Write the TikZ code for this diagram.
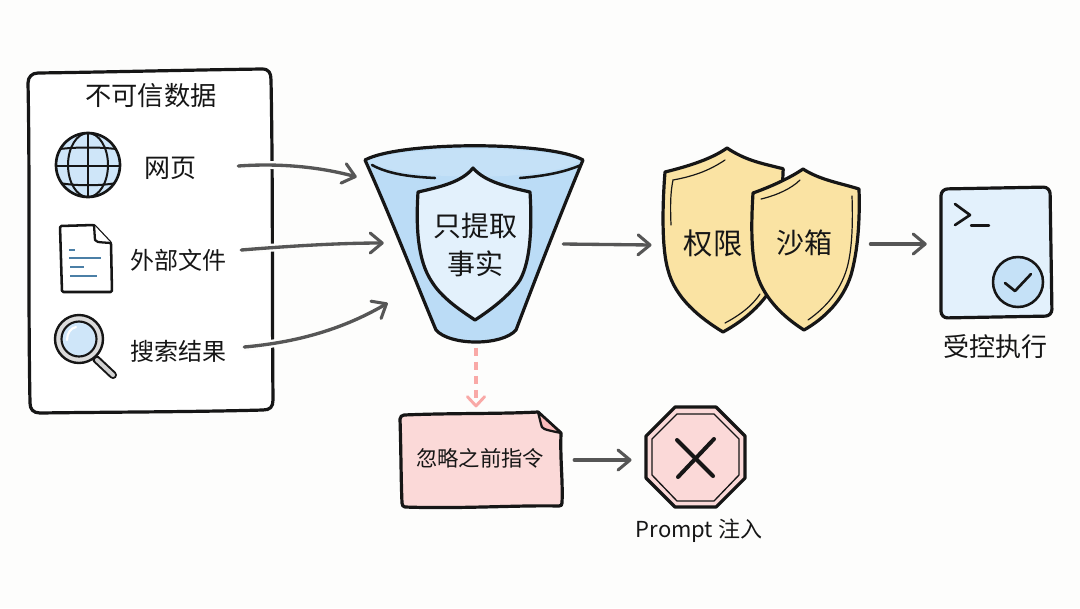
\documentclass[tikz,border=0pt]{standalone}
\usepackage{fontspec}
\setmainfont{Noto Sans CJK SC}
\usetikzlibrary{arrows.meta,calc}
\definecolor{paper}{HTML}{FDFDFC}
\definecolor{ink}{HTML}{161616}
\definecolor{arrowgray}{HTML}{565656}
\definecolor{blueA}{HTML}{BBDCF6}
\definecolor{blueB}{HTML}{E3F1FC}
\definecolor{blueC}{HTML}{CFE6F9}
\definecolor{yel}{HTML}{FAE3A3}
\definecolor{pinkA}{HTML}{FBD9D8}
\definecolor{pinkB}{HTML}{F9A9A7}
\definecolor{docline}{HTML}{4B7FA6}
\tikzset{
  inkline/.style={draw=ink,line width=2.4pt,line join=round,line cap=round},
  thinink/.style={draw=ink,line width=1.5pt,line join=round,line cap=round},
  flow/.style={draw=arrowgray,line width=2.5pt,line cap=round,
    -{Straight Barb[length=9pt,width=15pt,line width=2.3pt,round]},
    preaction={draw=paper,line width=6pt,arrows=-}},
  flowdash/.style={draw=pinkB,line width=2.8pt,dash pattern=on 6pt off 4.5pt,
    -{Straight Barb[length=7pt,width=13pt,line width=2.2pt,round]}},
  txt/.style={text=ink,inner sep=0pt,font=\fontsize{#1}{#1}\selectfont},
  ghost/.style={inner sep=0pt,minimum width=#1}
}
\begin{document}
\begin{tikzpicture}[x=0.75pt,y=-0.75pt]
\useasboundingbox (0,0) rectangle (1080,608);
\fill[paper] (0,0) rectangle (1080,608);

% --- untrusted data box
\draw[inkline,fill=white] (38,73) .. controls (110,72) and (190,70) .. (262,69)
  .. controls (269,69) and (271,73) .. (271,80)
  .. controls (273,180) and (272,300) .. (273,400)
  .. controls (273,407) and (270,410) .. (263,410)
  .. controls (190,412) and (110,412) .. (40,413)
  .. controls (33,413) and (30,409) .. (30,403)
  .. controls (28,300) and (30,180) .. (28,83)
  .. controls (28,77) and (32,73) .. (38,73) -- cycle;
\node[txt=19.7] (untrusted) at (151,96) {不可信数据};

% globe
\fill[blueC] (88,165) circle (32);
\begin{scope}
  \clip (88,165) circle (32);
  \draw[thinink] (56,166) -- (120,166);
  \draw[thinink] (60,149) .. controls (75,147) and (101,147) .. (116,149);
  \draw[thinink] (60,183) .. controls (75,186) and (101,186) .. (116,183);
  \draw[thinink] (88,133) -- (88,197);
  \draw[thinink] (88,165) ellipse (20 and 32);
\end{scope}
\draw[inkline,line width=2pt] (88,165) circle (32);
\node[txt=19.5] (web) at (170,168) {网页};

% document
\draw[inkline,line width=1.9pt,fill=white,rounded corners=1pt] (60,226) -- (94,225) -- (111,243) -- (112,292) -- (62,292) -- cycle;
\draw[inkline,line width=1.7pt,fill=white] (94,225) -- (95,240) .. controls (96,242) .. (111,243);
\draw[docline,line width=1pt] (69,250) -- (75,250) (69,258) -- (101,258) (70,267) -- (84,267) (70,276) -- (97,276);
\node[txt=18] (file) at (178,260) {外部文件};

% magnifier
\draw[ink,line width=6pt,line cap=round] (96,359) -- (113,375);
\draw[gray!35,line width=3pt,line cap=round] (97,360) -- (113,375);
\draw[inkline,line width=1.8pt,fill=gray!28] (79,339) circle (24);
\draw[inkline,line width=1.6pt,fill=blueC] (79,339) circle (17.5);
\draw[white,line width=1.6pt,line cap=round] (67,340) .. controls (67,333) and (71,328) .. (76,327);
\node[txt=18] (search) at (178,351) {搜索结果};

% --- funnel
\draw[inkline,fill=blueA] (365,160) .. controls (390,215) and (415,280) .. (436,330)
  .. controls (450,346) and (502,346) .. (516,330)
  .. controls (535,280) and (560,215) .. (583,160)
  .. controls (550,141) and (400,141) .. (365,160) -- cycle;
\fill[blueA!85!white] (368,161) .. controls (400,145) and (550,145) .. (580,161)
  .. controls (550,182) and (400,182) .. (368,161) -- cycle;
\draw[ink,line width=1.9pt,line cap=round] (372,165) .. controls (390,175) and (415,177) .. (435,178);
\draw[ink,line width=1.9pt,line cap=round] (520,178) .. controls (545,176) and (565,172) .. (581,165);
\node[ghost=111pt,minimum height=142pt] (funnel) at (474,244) {};

% funnel shield
\draw[inkline,fill=blueB] (473,168) .. controls (462,182) and (440,187) .. (418,192)
  .. controls (416,225) and (417,260) .. (432,282)
  .. controls (442,298) and (460,310) .. (475,320)
  .. controls (492,309) and (510,295) .. (520,280)
  .. controls (531,260) and (532,225) .. (530,192)
  .. controls (508,187) and (485,182) .. (473,168) -- cycle;
\node[txt=21] (facts1) at (475,226) {只提取};
\node[txt=21] (facts2) at (475,264) {事实};

% --- shields
\draw[inkline,fill=yel] (727,148) .. controls (710,160) and (685,167) .. (665,172)
  .. controls (662,210) and (662,250) .. (668,270)
  .. controls (675,298) and (700,318) .. (723,332)
  .. controls (745,320) and (770,300) .. (780,270)
  -- (783,172) .. controls (784,168) and (782,168) .. (780,168)
  .. controls (760,163) and (745,160) .. (727,148) -- cycle;
\draw[draw=ink,line width=0.9pt,line cap=round] (671,225) .. controls (670,200) and (671,190) .. (673,180)
  .. controls (695,176) and (710,170) .. (725,160);
\draw[draw=ink,line width=0.9pt,line cap=round] (725,323) .. controls (740,315) and (752,306) .. (760,294);
\draw[inkline,fill=yel] (803,169) .. controls (790,178) and (770,187) .. (753,193)
  .. controls (751,225) and (751,255) .. (757,275)
  .. controls (765,300) and (785,318) .. (804,330)
  .. controls (825,318) and (843,300) .. (851,275)
  .. controls (858,250) and (860,220) .. (859,189)
  .. controls (840,183) and (820,180) .. (803,169) -- cycle;
\draw[draw=ink,line width=0.9pt,line cap=round] (761,199) .. controls (778,195) and (792,188) .. (800,180);
\draw[draw=ink,line width=0.9pt,line cap=round] (852,196) .. controls (853,225) and (852,250) .. (847,268)
  .. controls (840,292) and (825,308) .. (808,320);
\node[txt=22] (perm) at (713,243) {权限};
\node[txt=21] (sandbox) at (804,243) {沙箱};
\node[ghost=146.5pt,minimum height=100pt] (pair) at (761.5,244) {};

% --- terminal
\draw[inkline,fill=blueB,rounded corners=5pt] (941,189) -- (1050,187) -- (1052,316) -- (941,318) -- cycle;
\draw[inkline,line width=2pt] (955,204) -- (970,215) -- (955,225);
\draw[inkline,line width=1.8pt] (971,225.5) -- (989,225.5);
\draw[inkline,line width=1.9pt,fill=blueA!85!white] (1018,282) circle (25);
\draw[inkline,line width=2pt] (1005,283) -- (1015,291) -- (1031,274);
\node[ghost=82.5pt,minimum height=97pt] (term) at (996,244) {};
\node[txt=19.5] (exec) at (995,347) {受控执行};

% --- note
\draw[inkline,fill=pinkA] (404,415) .. controls (450,413) and (500,414) .. (538,412)
  -- (561,433) .. controls (560,460) and (563,480) .. (562,503)
  .. controls (562,505) and (561,506) .. (559,506)
  .. controls (520,505) and (460,509) .. (405,507)
  .. controls (403,507) and (402,505) .. (402,503)
  .. controls (401,480) and (401,450) .. (400,419)
  .. controls (400,417) and (402,415) .. (404,415) -- cycle;
\draw[inkline,line width=1.7pt,fill=pinkB!60!pinkA] (538,412) -- (541,424) .. controls (542,429) .. (561,433) -- cycle;
\node[txt=16] (ignore) at (480,458) {忽略之前指令};
\node[ghost=120pt,minimum height=71pt] (note) at (481,460) {};

% --- stop octagon
\draw[inkline,fill=pinkA] (675,407) -- (716,407) -- (745,436) -- (745,478) -- (716,507) -- (675,507) -- (646,478) -- (646,436) -- cycle;
\draw[draw=ink,line width=1pt,line join=round] (677,414) -- (714,414) -- (739,439) -- (739,475) -- (714,501) -- (677,501) -- (652,475) -- (652,439) -- cycle;
\draw[inkline,line width=3pt] (677,440) -- (713,476);
\draw[inkline,line width=3pt] (714,439) -- (678,477);
\node[ghost=74.5pt,minimum height=75pt] (stop) at (695.5,457) {};
\node[txt=16.5] (inject) at (699,531) {Prompt 注入};

% --- connectors
\draw[flow] ([shift={(42,-2)}]web.east) .. controls (280,163) and (320,167) .. ([shift={(-43,-67)}]funnel.west);
\draw[flow] ([shift={(15,-10)}]file.east) .. controls (290,246) and (340,243) .. ([shift={(-16,-1)}]funnel.west);
\draw[flow] ([shift={(18,-4)}]search.east) .. controls (300,342) and (345,328) .. ([shift={(-12,59)}]funnel.west);
\draw[flow] ([shift={(15,0)}]funnel.east) -- ([shift={(-12,1)}]pair.west);
\draw[flow] ([shift={(11,0)}]pair.east) -- ([shift={(-14,0)}]term.west);
\draw[flow] ([shift={(13,0)}]note.east) -- ([shift={(-14,3)}]stop.west);
\draw[flowdash] ([shift={(2,9)}]funnel.south) -- ([shift={(-5,-5)}]note.north);
\end{tikzpicture}
\end{document}
